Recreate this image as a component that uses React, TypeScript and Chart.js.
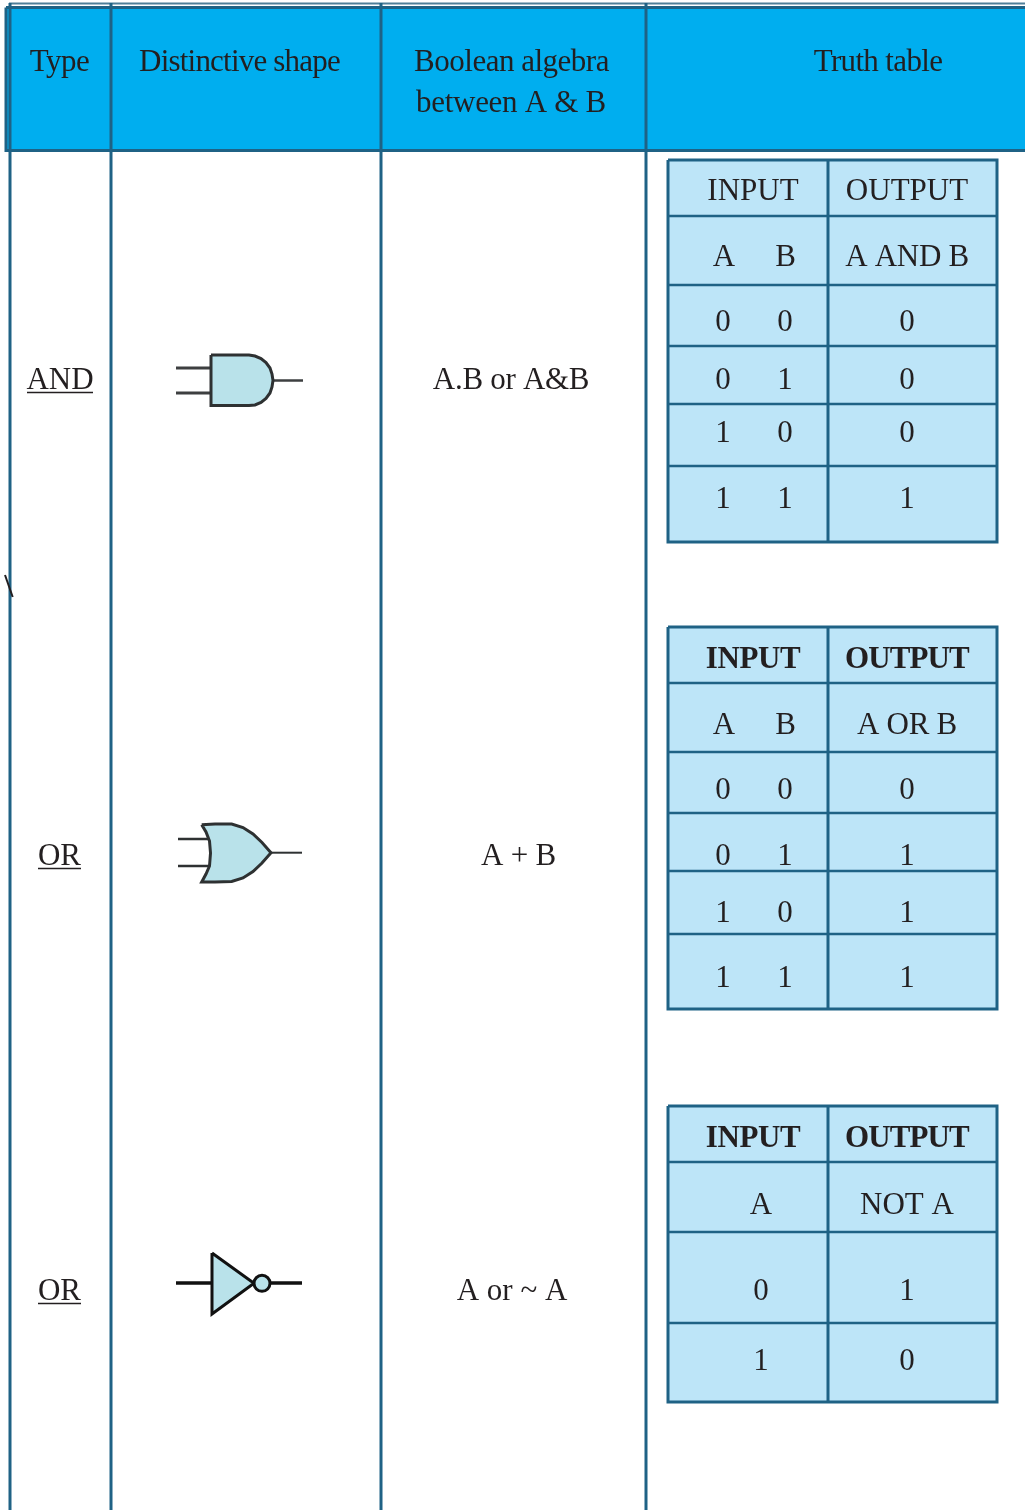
import React, { useEffect, useRef } from "react";
import { Chart, registerables } from "chart.js";

Chart.register(...registerables);

// ---- content ----
const headerLabels = ["Type", "Distinctive shape", "Truth table"];
const booleanHeader = ["Boolean algebra", "between A & B"];
const gateTypes = ["AND", "OR", "OR"];
const booleanExpressions = ["A.B or A&B", "A + B", "A or ~ A"];
const inputTitle = "INPUT";
const outputTitle = "OUTPUT";
const andColumns = ["A", "B", "A AND B"];
const orColumns = ["A", "B", "A OR B"];
const notColumns = ["A", "NOT A"];
const andRows = [["0", "0", "0"], ["0", "1", "0"], ["1", "0", "0"], ["1", "1", "1"]];
const orRows = [["0", "0", "0"], ["0", "1", "1"], ["1", "0", "1"], ["1", "1", "1"]];
const notRows = [["0", "1"], ["1", "0"]];

// ---- layout, in page pixels (the axes run 0..1025 and 0..1510) ----
const W = 1025;
const H = 1510;
const columnEdges = [10, 111, 381, 646];
const tableLeft = 668, tableMid = 828, tableRight = 997;
const andRules = [160, 216, 285, 346, 404, 466, 542];
const orRules = [627, 683, 752, 813, 871, 934, 1009];
const notRules = [1106, 1162, 1232, 1323, 1402];
const andBase = [200, 266, 331, 389, 442, 508];
const orBase = [668, 734, 799, 865, 922, 987];
const notBase = [1147, 1214, 1300, 1370];
const colA = 724, colB = 785.5, colOut = 907, colNotA = 761, colTitleIn = 753;

const INK = "#231f20";
const RULE = "#1f6285";
const HEAD = "#00aeef";
const CELL = "#bde5f8";
const GATE = "#b9e2ea";
const WIRE = "#3d3f40";

type P = { x: number; y: number };
const pts = (a: number[][]): P[] => a.map(([x, y]) => ({ x, y }));

const paint: any[] = [];
function stroke(points: number[][], color: string, width: number) {
  paint.push({ data: pts(points), showLine: true, borderColor: color, borderWidth: width, pointRadius: 0, fill: false, tension: 0, clip: false });
}
function shape(points: number[][], fillColor: string, color: string, width: number) {
  paint.push({
    data: pts(points), showLine: true, backgroundColor: fillColor, borderColor: color, borderWidth: width,
    pointRadius: 0, fill: "shape", tension: 0, clip: false, borderJoinStyle: "miter",
  });
}
const rect = (l: number, t: number, r: number, b: number) => [[l, t], [r, t], [r, b], [l, b], [l, t]];

// header band and page rules
stroke([[9, 3.5], [W, 3.5]], "#4f7f99", 2);
shape(rect(6, 7.5, W + 2, 150.5), HEAD, RULE, 3);
columnEdges.forEach((x) => stroke([[x, 3], [x, H]], RULE, 3));
stroke([[5, 575], [12.7, 597]], INK, 2);

// truth tables
function table(rules: number[]) {
  const top = rules[0], bottom = rules[rules.length - 1];
  shape(rect(tableLeft, top, tableRight, bottom), CELL, RULE, 3);
  rules.slice(1, -1).forEach((y) => stroke([[tableLeft, y], [tableRight, y]], RULE, 2.5));
  stroke([[tableMid, top], [tableMid, bottom]], RULE, 3);
}
table(andRules);
table(orRules);
table(notRules);

// AND gate
stroke([[176, 368], [211, 368]], WIRE, 3);
stroke([[176, 393], [211, 393]], WIRE, 3);
stroke([[272, 380.5], [303, 380.5]], WIRE, 2.5);
shape(
  [[211, 355], [249, 355], [255, 356], [261, 358.5], [266, 362.5], [270, 368], [272, 374], [273, 380.5],
   [272, 387], [270, 393], [266, 398.5], [261, 402.5], [255, 405], [249, 405.5], [211, 405.5], [211, 355]],
  GATE, "#2e3132", 3
);

// OR gate
stroke([[178, 839], [211, 839]], "#2e3132", 2.5);
stroke([[178, 866], [211, 866]], "#2e3132", 2.5);
stroke([[271, 852.7], [302, 852.7]], "#2e3132", 2);
shape(
  [[201.7, 824.7], [215, 824], [231.7, 824], [243, 827.5], [253, 834], [262, 842.5], [271, 852.7], [262, 863],
   [253, 871.5], [243, 878], [231.7, 881.5], [215, 882], [201.7, 882], [206, 874], [209.5, 866], [210.5, 853], [209.5, 841],
   [206, 832], [201.7, 824.7]],
  GATE, "#2e3132", 3
);

// NOT gate
stroke([[176, 1283], [212, 1283]], "#111", 3.5);
stroke([[270, 1283], [302, 1283]], "#111", 3.5);
shape([[212, 1253], [254, 1283.3], [212, 1314], [212, 1253]], GATE, "#111", 3);
paint.push({
  data: pts([[262, 1283.3]]), showLine: false, pointRadius: 8, pointBackgroundColor: GATE,
  pointBorderColor: "#111", pointBorderWidth: 3, clip: false,
});

// underlines under the gate names
stroke([[27, 392.5], [93, 392.5]], INK, 1.5);
stroke([[38, 868.5], [81, 868.5]], INK, 1.5);
stroke([[38, 1303.5], [81, 1303.5]], INK, 1.5);

// ---- text ----
type T = { s: string; x: number; y: number; bold?: boolean; ls?: number };
const texts: T[] = [
  { s: headerLabels[0], x: 59.5, y: 71, ls: -0.5 },
  { s: headerLabels[1], x: 239.5, y: 70.5, ls: -0.8 },
  { s: booleanHeader[0], x: 511.5, y: 70.5, ls: -0.5 },
  { s: booleanHeader[1], x: 511, y: 112, ls: -0.3 },
  { s: headerLabels[2], x: 878, y: 70.5, ls: -0.65 },
  { s: gateTypes[0], x: 60, y: 389 },
  { s: gateTypes[1], x: 59.5, y: 865 },
  { s: gateTypes[2], x: 59.5, y: 1300 },
  { s: booleanExpressions[0], x: 511, y: 389, ls: -0.3 },
  { s: booleanExpressions[1], x: 518.5, y: 865, ls: -0.2 },
  { s: booleanExpressions[2], x: 512, y: 1300 },
];
function twoInput(columns: string[], rows: string[][], base: number[], bold: boolean) {
  texts.push({ s: inputTitle, x: colTitleIn, y: base[0], bold, ls: bold ? -0.4 : 0 });
  texts.push({ s: outputTitle, x: colOut, y: base[0], bold, ls: bold ? -0.9 : 0 });
  [colA, colB, colOut].forEach((x, i) => texts.push({ s: columns[i], x, y: base[1], ls: i === 2 ? -0.3 : 0 }));
  rows.forEach((r, j) => [colA - 1, colB - 0.5, colOut].forEach((x, i) => texts.push({ s: r[i], x, y: base[j + 2] })));
}
twoInput(andColumns, andRows, andBase, false);
twoInput(orColumns, orRows, orBase, true);
texts.push({ s: inputTitle, x: colTitleIn, y: notBase[0], bold: true, ls: -0.4 });
texts.push({ s: outputTitle, x: colOut, y: notBase[0], bold: true, ls: -0.9 });
[colNotA, colOut].forEach((x, i) => texts.push({ s: notColumns[i], x, y: notBase[1] }));
notRows.forEach((r, j) => [colNotA, colOut].forEach((x, i) => texts.push({ s: r[i], x, y: notBase[j + 2] })));

const textPlugin = {
  id: "tableText",
  afterDatasetsDraw(chart: any) {
    const { ctx, scales } = chart;
    ctx.save();
    ctx.fillStyle = INK;
    ctx.textAlign = "center";
    ctx.textBaseline = "alphabetic";
    for (const t of texts) {
      ctx.font = `${t.bold ? "bold " : ""}31px "Liberation Serif"`;
      (ctx as any).letterSpacing = `${t.ls ?? 0}px`;
      ctx.fillText(t.s, scales.x.getPixelForValue(t.x), scales.y.getPixelForValue(t.y));
    }
    ctx.restore();
  },
};

export default function App() {
  const ref = useRef<HTMLCanvasElement>(null);
  useEffect(() => {
    if (!ref.current) return;
    const chart = new Chart(ref.current, {
      type: "scatter",
      data: { datasets: [...paint].reverse() },
      options: {
        animation: false,
        responsive: false,
        devicePixelRatio: 1,
        events: [],
        layout: { padding: 0, autoPadding: false },
        plugins: { legend: { display: false }, tooltip: { enabled: false }, title: { display: false } },
        scales: {
          x: { type: "linear", min: 0, max: W, display: false },
          y: { type: "linear", min: 0, max: H, reverse: true, display: false },
        },
      },
      plugins: [textPlugin],
    } as any);
    return () => chart.destroy();
  }, []);
  return (
    <canvas
      ref={ref}
      width={W}
      height={H}
      style={{ position: "absolute", left: 0, top: 0, display: "block", width: W, height: H }}
    />
  );
}
